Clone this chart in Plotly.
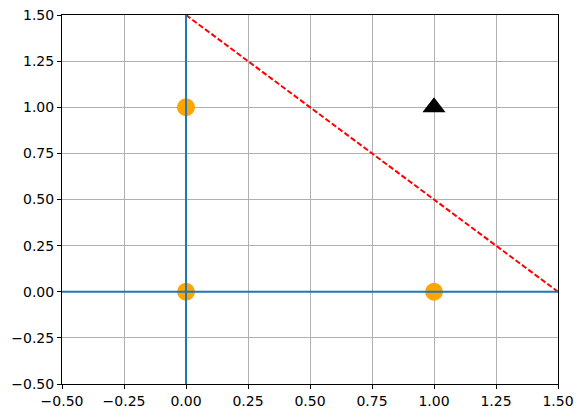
import plotly.graph_objects as go

# Data
orange_x = [0, 0, 1]
orange_y = [0, 1, 0]
black_x = [1]
black_y = [1]
boundary_x = [0, 1.5]
boundary_y = [1.5, 0]
tick_vals = [-0.5, -0.25, 0.0, 0.25, 0.5, 0.75, 1.0, 1.25, 1.5]
tick_text = [("\u2212" if v < 0 else "") + f"{abs(v):.2f}" for v in tick_vals]

fig = go.Figure()
fig.add_trace(go.Scatter(x=orange_x, y=orange_y, mode="markers",
                         marker=dict(color="orange", size=18, line=dict(width=0)),
                         showlegend=False))
fig.add_trace(go.Scatter(x=black_x, y=black_y, mode="markers",
                         marker=dict(color="black", symbol="triangle-up", size=20, line=dict(width=0)),
                         showlegend=False))
fig.add_trace(go.Scatter(x=boundary_x, y=boundary_y, mode="lines",
                         line=dict(color="red", width=2, dash="5.5px,2.4px"),
                         showlegend=False, cliponaxis=True))

fig.add_hline(y=0, line=dict(color="#1f77b4", width=2), layer="above")
fig.add_vline(x=0, line=dict(color="#1f77b4", width=2), layer="above")

axis_common = dict(
    tickvals=tick_vals, ticktext=tick_text,
    showgrid=True, gridcolor="#b0b0b0", gridwidth=1,
    zeroline=False, showline=True, linecolor="black", linewidth=1,
    mirror=True, ticks="outside", ticklen=4, tickcolor="black", tickwidth=1,
    tickfont=dict(family="DejaVu Sans", size=14, color="black"),
    automargin=False, ticklabeloverflow="allow",
)
fig.update_xaxes(range=[-0.5, 1.5], **axis_common)
fig.update_yaxes(range=[-0.5, 1.5], **axis_common)

# page body has ~8px default margin; size figure so plot area lands where the reference's does
fig.update_layout(
    width=575, height=410,
    margin=dict(l=54, r=25, t=7, b=34),
    paper_bgcolor="white", plot_bgcolor="white",
    showlegend=False,
)
fig.write_html("out.html")
